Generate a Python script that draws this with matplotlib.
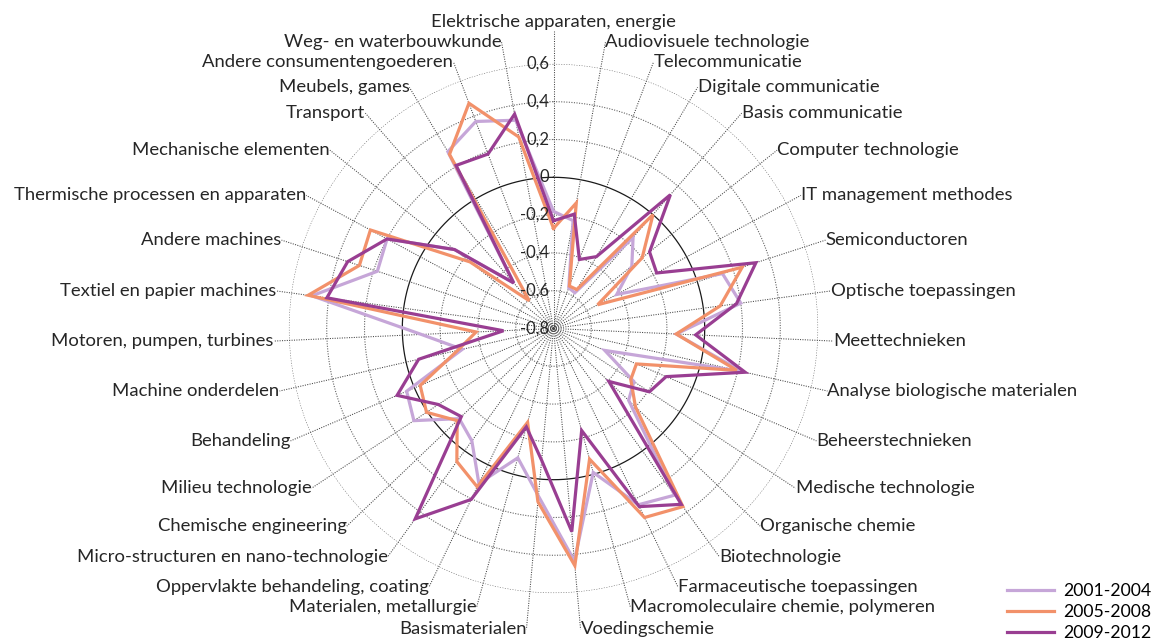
import numpy as np
import matplotlib
matplotlib.use('Agg')
import matplotlib.pyplot as plt
from matplotlib.lines import Line2D

plt.rcParams['font.family'] = ['Lato', 'DejaVu Sans']

categories = [
    'Elektrische apparaten, energie', 'Audiovisuele technologie', 'Telecommunicatie',
    'Digitale communicatie', 'Basis communicatie', 'Computer technologie',
    'IT management methodes', 'Semiconductoren', 'Optische toepassingen',
    'Meettechnieken', 'Analyse biologische materialen', 'Beheerstechnieken',
    'Medische technologie', 'Organische chemie', 'Biotechnologie',
    'Farmaceutische toepassingen', 'Macromoleculaire chemie, polymeren', 'Voedingschemie',
    'Basismaterialen', 'Materialen, metallurgie', 'Oppervlakte behandeling, coating',
    'Micro-structuren en nano-technologie', 'Chemische engineering', 'Milieu technologie',
    'Behandeling', 'Machine onderdelen', 'Motoren, pumpen, turbines',
    'Textiel en papier machines', 'Andere machines', 'Thermische processen en apparaten',
    'Mechanische elementen', 'Transport', 'Meubels, games',
    'Andere consumentengoederen', 'Weg- en waterbouwkunde',
]

periods = ['2001-2004', '2005-2008', '2009-2012']

values_2001_2004 = [-0.18, -0.22, -0.57, -0.58, -0.16, -0.27, -0.42, 0.14, 0.20, -0.15,
                    0.22, -0.505, -0.29, -0.25, 0.29, 0.235, -0.01, 0.435, 0.09, -0.09,
                    0.11, -0.065, -0.11, 0.085, 0.045, -0.305, -0.10, 0.49, 0.18, 0.20,
                    -0.13, -0.48, 0.29, 0.37, 0.32]
values_2005_2008 = [-0.27, -0.125, -0.56, -0.56, 0.0, -0.20, -0.535, 0.25, 0.09, -0.15,
                    0.195, -0.323, -0.31, -0.20, 0.365, 0.31, -0.083, 0.46, 0.12, -0.285,
                    0.13, 0.07, -0.095, 0.005, -0.033, -0.28, -0.39, 0.51, 0.28, 0.30,
                    -0.235, -0.605, 0.273, 0.473, 0.23]
values_2009_2012 = [-0.23, -0.185, -0.41, -0.357, 0.14, -0.15, -0.18, 0.326, 0.177, -0.047,
                    0.24, -0.152, -0.192, -0.395, 0.35, 0.246, -0.24, 0.279, -0.10, -0.26,
                    0.204, 0.445, -0.125, -0.07, 0.10, -0.068, -0.535, 0.41, 0.345, 0.20,
                    -0.13, -0.48, 0.205, 0.186, 0.353]

r_ticks = [-0.8, -0.6, -0.4, -0.2, 0.0, 0.2, 0.4, 0.6]
r_tick_labels = ['-0,8', '-0,6', '-0,4', '-0,2', '0', '0,2', '0,4', '0,6']

series = [values_2001_2004, values_2005_2008, values_2009_2012]
colors = ['#C6A6D8', '#F2916A', '#993E92']

W, H = 1155, 643
fig = plt.figure(figsize=(W / 100, H / 100), dpi=100)
cx, cy, R = 553.5, 328.5, 264.6
ax = fig.add_axes([(cx - R) / W, (H - cy - R) / H, 2 * R / W, 2 * R / H], projection='polar')
ax.set_theta_zero_location('N')
ax.set_theta_direction(-1)
rmin, rmax = -0.8, 0.6
ax.set_ylim(rmin, rmax)
ax.grid(False)
ax.spines['polar'].set_visible(False)
ax.set_xticks([])
ax.set_yticks([])
ax.patch.set_alpha(0)

n = len(categories)
theta = np.arange(n) * 2 * np.pi / n
px_per_unit = R / (rmax - rmin)

# rings
tt = np.linspace(0, 2 * np.pi, 721)
for rv in r_ticks[1:]:
    if rv == 0:
        ax.plot(tt, np.full_like(tt, rv), color='#1a1a1a', lw=0.9, zorder=1)
    else:
        ax.plot(tt, np.full_like(tt, rv), color='#666666', lw=0.8, ls=(0, (1, 1.3)), zorder=1)

# label radii (pixels from centre), symmetric left/right
lab_px_half = [298, 291, 285, 281, 286, 286, 281, 286, 280, 280, 281, 286, 290, 286, 282, 287, 289, 302]
lab_px = [lab_px_half[k] if k <= 17 else lab_px_half[n - k] for k in range(n)]

for k in range(n):
    r_end = rmin + lab_px[k] / px_per_unit
    ax.plot([theta[k], theta[k]], [rmin, r_end], color='#444444', lw=0.75,
            ls=(0, (1, 1.3)), zorder=1, clip_on=False)
    if k == 0:
        ha, va = 'center', 'bottom'
        off = (0, 0)
    elif k <= 17:
        ha, va = 'left', 'center'
        off = (0, 0)
    else:
        ha, va = 'right', 'center'
        off = (0, 0)
    ax.annotate(categories[k], xy=(theta[k], r_end), xytext=off, textcoords='offset pixels',
                ha=ha, va=va, fontsize=13.3, color='#262626', annotation_clip=False)

for rv, lab in zip(r_ticks, r_tick_labels):
    ax.annotate(lab, xy=(0, rv), xytext=(-4, 0), textcoords='offset pixels',
                ha='right', va='center', fontsize=12, color='#262626', zorder=5)

for vals, col, lab in zip(series, colors, periods):
    v = list(vals) + [vals[0]]
    t = list(theta) + [theta[0]]
    ax.plot(t, v, color=col, lw=2.3, label=lab, zorder=3, solid_joinstyle='miter')

handles = [Line2D([0], [0], color=c, lw=2.3) for c in colors]
fig.legend(handles, periods, loc='lower left', bbox_to_anchor=(1007 / W, 1.5 / H),
           frameon=False, fontsize=12.7, handlelength=2.65, handletextpad=0.55,
           labelspacing=0.3, borderaxespad=0.0, borderpad=0.0)

fig.savefig('out.png', dpi=100)
